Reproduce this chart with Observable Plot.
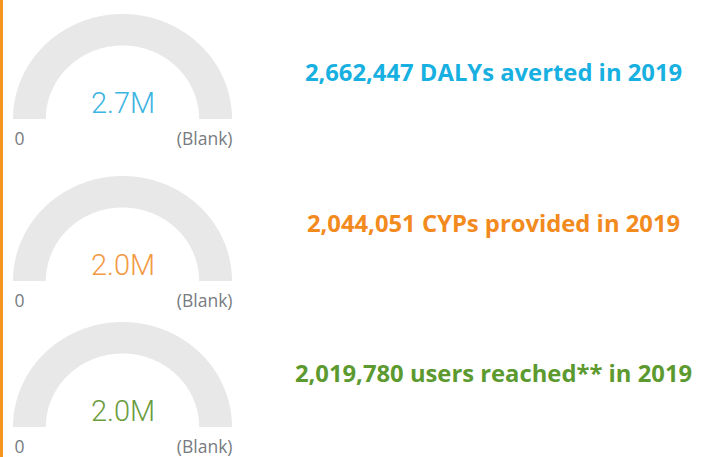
<!DOCTYPE html>
<html>
<head>
<meta charset="utf-8">
<script src="https://cdn.jsdelivr.net/npm/d3@7"></script>
<script src="https://cdn.jsdelivr.net/npm/@observablehq/plot@0.6"></script>
<style>
  html, body { margin: 0; padding: 0; background: #fff; }
  #wrap { position: relative; width: 705px; height: 457px; overflow: hidden; background: #fff; }
  #bar { position: absolute; left: 0; top: 0; width: 3px; height: 457px; background: #f7941d; }
  #charts { position: absolute; left: 0; top: 0; width: 705px; }
  #charts svg { display: block; overflow: visible; }
</style>
</head>
<body>
<div id="wrap"><div id="charts"></div><div id="bar"></div></div>
<script>
// ---- data ----
const metrics = ["DALYs averted", "CYPs provided", "users reached**"];
const totals = [2662447, 2044051, 2019780];
const gaugeMinLabels = ["0", "0", "0"];
const gaugeMaxLabels = ["(Blank)", "(Blank)", "(Blank)"];
const year = 2019;

// ---- styles / layout ----
const valueColors = ["#3cb4e2", "#f39a45", "#6b9c3f"];
const captionColors = ["#17b0e1", "#f28a1d", "#5c9a2f"];
const trackColor = "#e8e8e8";
const labelColor = "#777b80";
const rowHeights = [152, 154, 151];
const arcBaselines = [119, 129, 121];
const captionBaselines = [80.7, 79.7, 75.7];
const gaugeLeft = 13, gaugeRight = 232, outerRy = 105, innerRatio = 0.7;
const captionCenterPx = 493;

// gauge track geometry (unit semicircle, outer & inner radius)
const angles = d3.range(0, 181).map(a => a * Math.PI / 180);
const track = angles.map(t => ({
  xo: -Math.cos(t), yo: Math.sin(t),
  xi: -Math.cos(t) * innerRatio, yi: Math.sin(t) * innerRatio
}));

const fmtShort = d3.format(".2s");
const fmtFull = d3.format(",");
const cx = (gaugeLeft + gaugeRight) / 2, rx = (gaugeRight - gaugeLeft) / 2;
const captionX = (captionCenterPx - cx) / rx;

const charts = document.getElementById("charts");
metrics.forEach((m, i) => {
  const base = arcBaselines[i];
  const plot = Plot.plot({
    width: 705,
    height: rowHeights[i],
    margin: 0,
    style: { background: "transparent", overflow: "visible" },
    x: { domain: [-1, 1], range: [gaugeLeft, gaugeRight], axis: null },
    y: { domain: [0, 1], range: [base, base - outerRy], axis: null },
    marks: [
      Plot.area(track, { x1: "xo", y1: "yo", x2: "xi", y2: "yi", fill: trackColor }),
      Plot.text([totals[i]], {
        x: 0, y: 0, text: d => fmtShort(d), lineAnchor: "bottom", dy: -7,
        fill: valueColors[i], fontSize: 29, fontWeight: 300, fontFamily: "Roboto"
      }),
      Plot.text([gaugeMinLabels[i]], {
        x: -1, y: 0, text: d => d, textAnchor: "start", lineAnchor: "bottom", dy: 25, dx: 1,
        fill: labelColor, fontSize: 17.5, fontFamily: "Open Sans"
      }),
      Plot.text([gaugeMaxLabels[i]], {
        x: 1, y: 0, text: d => d, textAnchor: "end", lineAnchor: "bottom", dy: 25,
        fill: labelColor, fontSize: 17.5, fontFamily: "Open Sans"
      }),
      Plot.text([totals[i]], {
        x: captionX, y: 0, text: d => `${fmtFull(d)} ${m} in ${year}`,
        lineAnchor: "bottom", dy: captionBaselines[i] - base,
        fill: captionColors[i], fontSize: 23.8, fontWeight: 700, fontFamily: "Open Sans"
      })
    ]
  });
  charts.appendChild(plot);
});
</script>
</body>
</html>
